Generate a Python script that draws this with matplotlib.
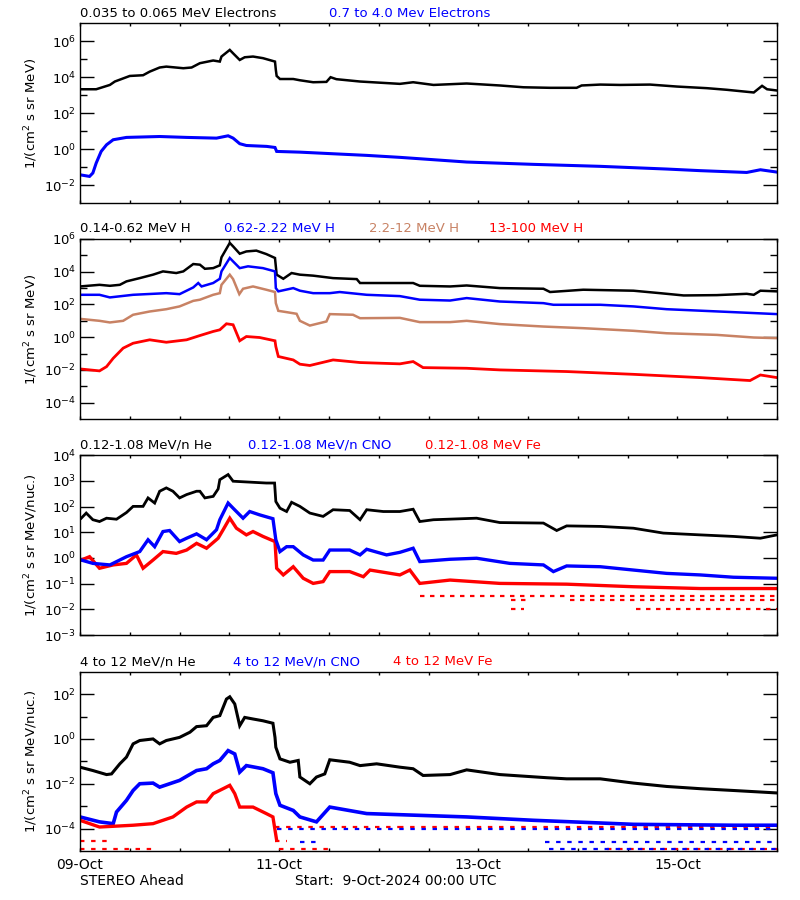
import numpy as np
import matplotlib
matplotlib.use("Agg")
import matplotlib.pyplot as plt
from matplotlib.ticker import FixedLocator, FuncFormatter, NullFormatter

# ---------------- data (time: hours since 9-Oct-2024 00:00 UTC, flux: log10) ----------------
# Panel 1: electrons
e_lo_t = [0, 3.9, 7.2, 8.4, 12.0, 15.2, 16.8, 19.2, 20.8, 24.9, 26.9, 28.9, 32.1, 33.7, 34.1, 36.1,
          36.9, 38.5, 39.7, 41.7, 44.1, 47.0, 47.2, 47.4, 48.2, 51.4, 53.0, 56.2, 59.4, 60.4, 61.8,
          67.5, 77.1, 80.3, 85.2, 93.2, 101.2, 106.9, 113.3, 119.7, 120.9, 125.4, 130.2, 137.4,
          143.9, 151.1, 155.9, 162.4, 164.4, 165.6, 168.0]
e_lo_v = [3.33, 3.33, 3.57, 3.76, 4.07, 4.11, 4.31, 4.54, 4.59, 4.50, 4.54, 4.78, 4.93, 4.87, 5.15, 5.52,
          5.33, 4.96, 5.11, 5.15, 5.06, 4.87, 4.41, 4.07, 3.90, 3.90, 3.83, 3.72, 3.74, 4.00, 3.89,
          3.76, 3.63, 3.72, 3.57, 3.65, 3.54, 3.44, 3.41, 3.41, 3.54, 3.59, 3.57, 3.59,
          3.48, 3.39, 3.30, 3.15, 3.52, 3.33, 3.26]
e_hi_t = [0, 2.3, 3.1, 3.9, 5.1, 6.4, 8.0, 11.2, 19.2, 25.7, 32.9, 35.7, 36.9, 38.5, 40.1, 45.0,
          47.0, 47.4, 53.0, 61.0, 69.1, 77.1, 93.2, 109.3, 125.4, 141.4, 149.5, 160.7, 164.0, 168.0]
e_hi_v = [-1.43, -1.52, -1.33, -0.78, -0.13, 0.24, 0.52, 0.65, 0.70, 0.65, 0.61, 0.74, 0.61, 0.30, 0.20, 0.15,
          0.09, -0.13, -0.17, -0.26, -0.35, -0.46, -0.72, -0.85, -0.96, -1.11, -1.20, -1.30, -1.15, -1.28]

# Panel 2: protons
h1_t = [0, 4.7, 7.2, 9.6, 11.2, 14.4, 17.6, 20.0, 23.2, 24.9, 27.3, 28.9, 30.1, 32.1, 33.7, 34.1,
        36.1, 36.9, 38.5, 40.1, 42.5, 44.9, 47.0, 47.4, 49.0, 51.0, 53.0, 56.2, 61.0, 66.7, 67.5,
        77.1, 80.3, 81.9, 89.2, 93.2, 101.2, 111.7, 113.3, 121.3, 133.4, 139.8, 145.5, 153.5,
        160.7, 162.4, 164.0, 168.0]
h1_v = [3.10, 3.20, 3.14, 3.20, 3.41, 3.61, 3.82, 4.02, 3.92, 4.02, 4.47, 4.43, 4.18, 4.22, 4.39, 4.88,
        5.76, 5.55, 5.10, 5.24, 5.29, 5.08, 4.84, 3.82, 3.57, 3.92, 3.82, 3.76, 3.61, 3.55, 3.31,
        3.31, 3.31, 3.14, 3.10, 3.16, 3.00, 2.96, 2.76, 2.90, 2.84, 2.69, 2.55, 2.57,
        2.65, 2.59, 2.84, 2.80]
h2_t = [0, 4.7, 7.2, 12.8, 20.8, 24.0, 27.3, 28.5, 29.3, 32.1, 33.7, 34.1, 36.1, 36.9, 38.5, 40.5,
        44.1, 47.0, 47.2, 47.8, 51.4, 53.0, 56.2, 60.2, 62.6, 69.1, 77.1, 81.9, 89.2, 93.2, 101.2,
        111.7, 114.1, 125.4, 133.4, 141.4, 157.5, 168.0]
h2_v = [2.59, 2.59, 2.43, 2.59, 2.69, 2.63, 3.04, 3.31, 3.10, 3.31, 3.57, 4.02, 4.84, 4.63, 4.22, 4.33,
        4.22, 4.02, 3.00, 2.80, 3.00, 2.84, 2.69, 2.69, 2.76, 2.59, 2.51, 2.29, 2.24, 2.39, 2.18,
        2.08, 1.98, 1.98, 1.88, 1.71, 1.53, 1.41]
h3_t = [0, 4.7, 7.2, 10.4, 12.8, 16.8, 20.8, 24.0, 27.3, 28.9, 32.1, 33.7, 34.1, 36.1, 36.9, 38.4,
        39.3, 41.7, 44.9, 47.0, 47.2, 47.8, 49.8, 52.2, 53.0, 55.4, 57.8, 59.4, 60.2, 65.8, 67.5,
        77.1, 81.9, 89.2, 93.2, 101.2, 111.7, 121.3, 133.4, 141.4, 153.5, 162.4, 168.0]
h3_v = [1.12, 1.00, 0.90, 1.00, 1.37, 1.57, 1.71, 1.88, 2.22, 2.29, 2.59, 2.69, 3.20, 3.82, 3.55, 2.63,
        2.96, 3.10, 2.90, 2.76, 2.08, 1.61, 1.53, 1.43, 1.00, 0.71, 0.86, 0.96, 1.41, 1.37, 1.16,
        1.18, 0.92, 0.92, 1.00, 0.80, 0.65, 0.55, 0.39, 0.24, 0.14, -0.02, -0.06]
h4_t = [0, 4.7, 6.4, 8.0, 10.4, 12.8, 16.8, 20.8, 25.7, 28.9, 32.1, 33.7, 35.3, 36.9, 38.5, 40.1,
        43.3, 47.0, 47.2, 47.8, 51.4, 53.0, 55.4, 61.0, 67.5, 77.1, 80.3, 82.7, 93.2, 101.2, 117.3,
        133.4, 149.5, 161.5, 164.0, 168.0]
h4_v = [-1.94, -2.06, -1.80, -1.29, -0.67, -0.37, -0.16, -0.31, -0.16, 0.10, 0.35, 0.45, 0.82, 0.76, -0.22, 0.04,
        -0.02, -0.22, -0.57, -1.18, -1.39, -1.65, -1.73, -1.39, -1.55, -1.63, -1.49, -1.86, -1.90, -2.00, -2.10,
        -2.27, -2.47, -2.65, -2.31, -2.47]

# Panel 3: 0.12-1.08 MeV/n heavy ions
he_lo_t = [0.3, 1.5, 3.1, 4.7, 6.4, 8.8, 11.2, 12.8, 15.2, 16.4, 18.0, 19.2, 20.8, 22.4, 24.0, 25.7,
           28.1, 28.9, 30.1, 32.1, 33.3, 33.7, 35.7, 36.9, 44.9, 46.9, 47.2, 48.2, 49.8, 51.0, 53.0,
           55.4, 58.6, 61.0, 65.0, 67.5, 69.1, 73.1, 77.1, 80.3, 81.9, 85.2, 95.6, 101.2, 111.7,
           114.9, 117.3, 125.4, 133.4, 140.6, 149.5, 157.5, 164.0, 168.0]
he_lo_v = [1.55, 1.75, 1.49, 1.42, 1.55, 1.51, 1.77, 2.01, 2.01, 2.34, 2.14, 2.60, 2.73, 2.60, 2.34, 2.47,
           2.60, 2.60, 2.34, 2.40, 2.69, 3.05, 3.25, 2.99, 2.92, 2.92, 2.20, 1.94, 1.81, 2.17, 2.01,
           1.75, 1.62, 1.88, 1.85, 1.49, 1.88, 1.81, 1.81, 1.90, 1.42, 1.49, 1.55, 1.38, 1.36,
           1.07, 1.25, 1.23, 1.16, 0.97, 0.90, 0.84, 0.77, 0.90]
cno_lo_t = [0.3, 3.1, 7.2, 11.2, 14.4, 16.4, 18.0, 20.0, 21.6, 24.0, 25.7, 28.1, 30.5, 32.9, 33.7, 35.7,
            36.9, 39.3, 40.9, 43.3, 46.5, 47.2, 48.2, 49.8, 51.4, 53.8, 56.2, 58.6, 60.2, 65.0, 67.5,
            69.1, 73.9, 77.1, 80.3, 81.9, 89.2, 95.6, 103.6, 111.7, 114.1, 117.3, 125.4, 133.4,
            141.4, 149.5, 157.5, 168.0]
cno_lo_v = [-0.08, -0.21, -0.27, 0.05, 0.25, 0.71, 0.44, 1.03, 1.07, 0.64, 0.77, 0.94, 0.71, 1.10, 1.49, 2.14,
            1.94, 1.55, 1.81, 1.68, 1.53, 0.71, 0.25, 0.44, 0.44, 0.12, -0.08, -0.08, 0.31, 0.31, 0.12,
            0.34, 0.12, 0.22, 0.38, -0.14, -0.05, -0.01, -0.21, -0.27, -0.53, -0.31, -0.34, -0.47,
            -0.60, -0.66, -0.75, -0.79]
fe_lo_t = [0.3, 2.3, 4.7, 8.0, 11.2, 13.6, 15.2, 17.6, 20.0, 23.2, 25.7, 28.1, 30.5, 33.3, 34.5, 36.1,
           37.7, 40.1, 41.7, 44.1, 47.0, 47.4, 49.0, 51.4, 53.8, 56.2, 58.6, 60.2, 65.0, 68.3, 69.9,
           77.1, 79.5, 81.9, 89.2, 101.2, 117.3, 133.4, 149.5, 168.0]
fe_lo_v = [-0.08, 0.05, -0.40, -0.27, -0.21, 0.12, -0.40, -0.08, 0.25, 0.18, 0.31, 0.57, 0.38, 0.77, 1.10, 1.55,
           1.16, 0.90, 1.03, 0.84, 0.64, -0.40, -0.66, -0.34, -0.79, -0.99, -0.92, -0.53, -0.53, -0.73, -0.47,
           -0.66, -0.47, -0.99, -0.86, -0.99, -1.02, -1.12, -1.19, -1.19]
# background (one-count) rows of Fe points: start hour, end hour, log10 level
fe_lo_floor_t0 = [82.0, 104.0, 118.0, 104.0, 134.0]
fe_lo_floor_t1 = [168.0, 108.0, 168.0, 107.0, 168.0]
fe_lo_floor_v = [-1.47, -1.64, -1.64, -1.97, -1.97]

# Panel 4: 4-12 MeV/n heavy ions
he_hi_t = [0, 3.1, 6.4, 7.6, 9.6, 11.2, 12.8, 14.4, 17.6, 19.2, 20.8, 24.0, 26.5, 28.1, 30.5, 32.1,
           33.7, 35.3, 36.1, 37.3, 38.5, 39.7, 41.7, 44.1, 46.5, 47.0, 47.2, 48.2, 50.6, 52.6, 53.0,
           55.4, 57.0, 59.0, 60.2, 65.0, 67.5, 71.5, 77.1, 80.3, 82.7, 89.2, 93.2, 101.2, 112.5,
           117.3, 125.4, 133.4, 141.4, 149.5, 157.5, 168.0]
he_hi_v = [-1.26, -1.41, -1.59, -1.56, -1.11, -0.81, -0.22, -0.07, 0.00, -0.22, -0.07, 0.07, 0.30, 0.55, 0.59, 0.96,
           1.04, 1.78, 1.88, 1.56, 0.59, 0.96, 0.89, 0.81, 0.70, 0.07, -0.37, -0.89, -1.04, -0.96, -1.70,
           -2.00, -1.70, -1.56, -0.93, -1.04, -1.19, -1.11, -1.26, -1.33, -1.63, -1.59, -1.38, -1.59, -1.73,
           -1.78, -1.78, -1.97, -2.12, -2.22, -2.30, -2.41]
cno_hi_t = [0, 4.7, 8.0, 8.8, 11.2, 12.8, 14.4, 17.6, 19.2, 24.0, 28.1, 30.5, 32.1, 33.7, 35.7, 37.3,
            38.5, 40.1, 44.1, 46.5, 47.2, 48.2, 51.4, 53.0, 57.0, 60.2, 69.1, 77.1, 93.2, 109.3,
            133.4, 157.5, 168.0]
cno_hi_v = [-3.48, -3.70, -3.78, -3.26, -2.74, -2.30, -2.00, -1.97, -2.15, -1.85, -1.41, -1.33, -1.11, -0.96, -0.52, -0.67,
            -1.48, -1.19, -1.33, -1.51, -2.44, -2.96, -3.19, -3.48, -3.70, -3.04, -3.33, -3.38, -3.48, -3.63,
            -3.81, -3.85, -3.85]
fe_hi_t = [0, 4.7, 12.8, 17.6, 22.4, 25.7, 28.1, 30.5, 32.1, 34.5, 36.1, 37.3, 38.5, 41.7, 44.9, 46.5, 47.4]
fe_hi_v = [-3.63, -3.93, -3.85, -3.78, -3.48, -3.04, -2.81, -2.81, -2.44, -2.22, -2.07, -2.44, -3.04, -3.04,
           -3.33, -3.48, -4.52]
# background rows in panel 4 (start hour, end hour, log10 level, which species)
p4_floor_t0 = [0.0, 0.0, 48.0, 127.0, 47.0, 47.0, 77.0, 112.0, 53.0, 113.0, 47.5]
p4_floor_t1 = [17.6, 7.0, 60.0, 168.0, 50.0, 77.0, 168.0, 168.0, 57.0, 168.0, 168.0]
p4_floor_v = [-4.89, -4.55, -4.89, -4.89, -4.55, -3.93, -3.93, -4.59, -4.59, -4.92, -4.0]
p4_floor_species = ["Fe", "Fe", "Fe", "Fe", "Fe", "Fe", "Fe", "CNO", "CNO", "CNO", "CNO"]

# ---------------- text ----------------
x_tick_hours = [0, 48, 96, 144]
x_tick_labels = ["09-Oct", "11-Oct", "13-Oct", "15-Oct"]
titles = [
    [("0.035 to 0.065 MeV Electrons", 80, "k"), ("0.7 to 4.0 Mev Electrons", 329, "b")],
    [("0.14-0.62 MeV H", 80, "k"), ("0.62-2.22 MeV H", 224, "b"), ("2.2-12 MeV H", 369, "brown"),
     ("13-100 MeV H", 489, "r")],
    [("0.12-1.08 MeV/n He", 80, "k"), ("0.12-1.08 MeV/n CNO", 248, "b"), ("0.12-1.08 MeV Fe", 425, "r")],
    [("4 to 12 MeV/n He", 80, "k"), ("4 to 12 MeV/n CNO", 233, "b"), ("4 to 12 MeV Fe", 393, "r")],
]
ylabels = ["1/(cm$^2$ s sr MeV)", "1/(cm$^2$ s sr MeV)",
           "1/(cm$^2$ s sr MeV/nuc.)", "1/(cm$^2$ s sr MeV/nuc.)"]

COL = {"k": "#000000", "b": "#0000FF", "r": "#FF0000", "brown": "#C88264"}

W, H = 800, 900
fig = plt.figure(figsize=(8, 9), dpi=100)
plt.rcParams["font.family"] = ["DejaVu Sans"]
plt.rcParams["mathtext.fontset"] = "dejavusans"

# axes boxes in pixels: (left, top, right, bottom)
boxes = [(80, 23.3, 777, 203), (80, 239, 777, 419), (80, 455.3, 777, 635), (80, 671.7, 777, 851)]
ylims = [(-3, 7), (-5, 6), (-3, 4), (-5, 3)]
major_dec = [[-2, 0, 2, 4, 6], [-4, -2, 0, 2, 4, 6], [-3, -2, -1, 0, 1, 2, 3, 4], [-4, -2, 0, 2]]
minor_dec = [[-1, 1, 3, 5], [-3, -1, 1, 3, 5], [], [-3, -1, 1]]

axes = []
for i, (l, t, r, b) in enumerate(boxes):
    ax = fig.add_axes([l / W, 1 - b / H, (r - l) / W, (b - t) / H])
    ax.set_yscale("log")
    ax.set_ylim(10.0 ** ylims[i][0], 10.0 ** ylims[i][1])
    ax.set_xlim(0, 168)
    ax.yaxis.set_major_locator(FixedLocator([10.0 ** d for d in major_dec[i]]))
    ax.yaxis.set_minor_locator(FixedLocator([10.0 ** d for d in minor_dec[i]]))
    ax.yaxis.set_major_formatter(FuncFormatter(lambda v, p: r"$10^{%d}$" % int(round(np.log10(v)))))
    ax.yaxis.set_minor_formatter(NullFormatter())
    ax.tick_params(axis="y", which="major", direction="in", length=10, width=1,
                   left=True, right=True, labelsize=9.5, pad=3)
    ax.tick_params(axis="y", which="minor", direction="in", length=5, width=1, left=True, right=True)
    ax.set_xticks(np.arange(0, 169, 12))
    ax.set_xticklabels([])
    ax.tick_params(axis="x", which="major", direction="in", length=2.5, width=1, top=True, bottom=True)
    for s in ax.spines.values():
        s.set_linewidth(1.0)
    axes.append(ax)
    for (txt, xp, c) in titles[i]:
        fig.text(xp / W, 1 - (t - 10) / H, txt, color=COL[c], fontsize=9.5, ha="left", va="center")
    fig.text(31 / W, 1 - ((t + b) / 2) / H, ylabels[i], rotation=90, fontsize=9.5,
             ha="center", va="center")

def draw(ax, tt, vv, c, lw=1.8):
    ax.plot(tt, 10.0 ** np.array(vv), color=COL[c], lw=lw, solid_joinstyle="miter")

ax1, ax2, ax3, ax4 = axes
draw(ax1, e_lo_t, e_lo_v, "k")
draw(ax1, e_hi_t, e_hi_v, "b", lw=2.2)

draw(ax2, h1_t, h1_v, "k")
draw(ax2, h2_t, h2_v, "b")
draw(ax2, h3_t, h3_v, "brown")
draw(ax2, h4_t, h4_v, "r", lw=2.0)

for t0, t1, v in zip(fe_lo_floor_t0, fe_lo_floor_t1, fe_lo_floor_v):
    ax3.plot([t0, t1], [10.0 ** v] * 2, color=COL["r"], lw=1.6, dashes=(2, 2.5))
draw(ax3, he_lo_t, he_lo_v, "k", lw=2.0)
draw(ax3, fe_lo_t, fe_lo_v, "r", lw=2.4)
draw(ax3, cno_lo_t, cno_lo_v, "b", lw=2.4)

for t0, t1, v, sp in zip(p4_floor_t0, p4_floor_t1, p4_floor_v, p4_floor_species):
    ax4.plot([t0, t1], [10.0 ** v] * 2, color=COL["r"] if sp == "Fe" else COL["b"],
             lw=1.6, dashes=(2, 3))
draw(ax4, he_hi_t, he_hi_v, "k", lw=2.2)
draw(ax4, cno_hi_t, cno_hi_v, "b", lw=2.6)
draw(ax4, fe_hi_t, fe_hi_v, "r", lw=2.4)

# date labels and footer
for h, lab in zip(x_tick_hours, x_tick_labels):
    xp = 80 + h / 168 * 697
    fig.text(xp / W, 1 - 865 / H, lab, fontsize=10, ha="center", va="center")
fig.text(80 / W, 1 - 881 / H, "STEREO Ahead", fontsize=10, ha="left", va="center")
fig.text(295 / W, 1 - 881 / H, "Start:  9-Oct-2024 00:00 UTC", fontsize=10, ha="left", va="center")

fig.savefig("out.png", dpi=100, facecolor="white")
